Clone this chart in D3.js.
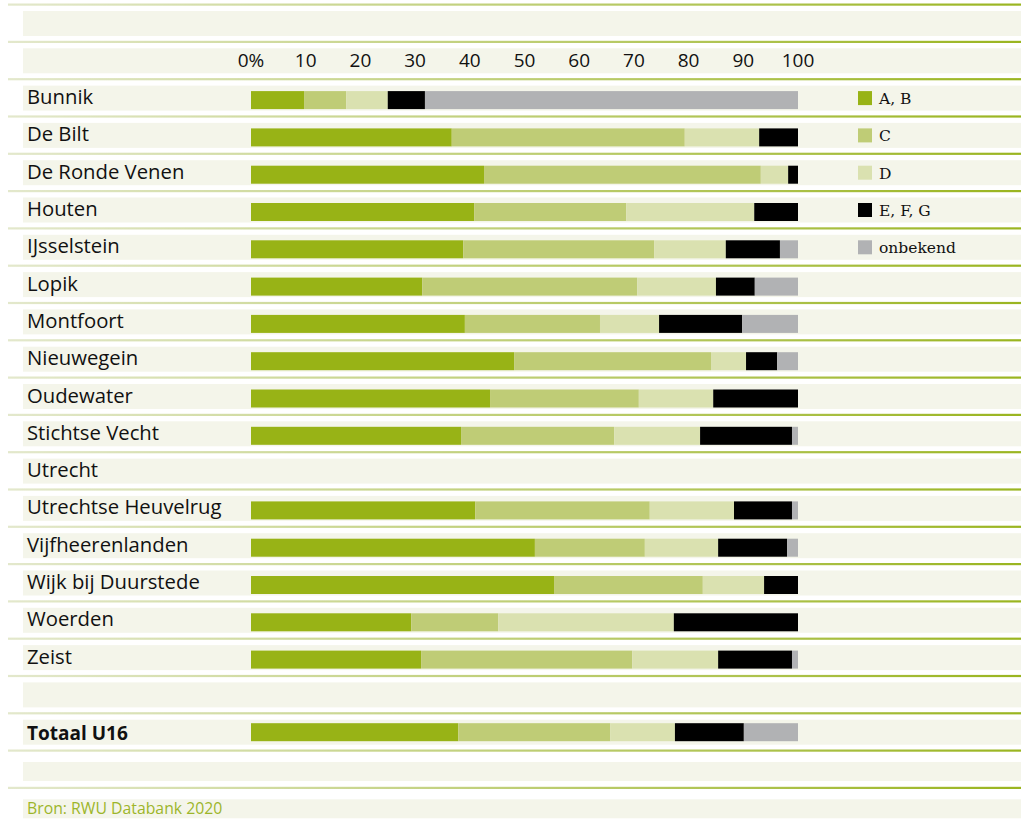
<!DOCTYPE html>
<html>
<head>
<meta charset="utf-8">
<script src="https://cdn.jsdelivr.net/npm/d3@7"></script>
<style>
  body { margin: 0; background: #fff; }
  text { font-family: "Open Sans", sans-serif; fill: #111; }
</style>
</head>
<body>
<div id="chart"></div>
<script>
// gemeenten, in volgorde van boven naar beneden
const categories = ["Bunnik", "De Bilt", "De Ronde Venen", "Houten", "IJsselstein", "Lopik",
  "Montfoort", "Nieuwegein", "Oudewater", "Stichtse Vecht", "Utrecht", "Utrechtse Heuvelrug",
  "Vijfheerenlanden", "Wijk bij Duurstede", "Woerden", "Zeist"];
const seriesNames = ["A, B", "C", "D", "E, F, G", "onbekend"];

// percentages per label (Utrecht: geen gegevens)
const labelAB  = [9.7, 36.7, 42.6, 40.8, 38.8, 31.3, 39.1, 48.1, 43.7, 38.4, null, 41.0, 51.9, 55.4, 29.3, 31.1];
const labelC   = [7.7, 42.6, 50.6, 27.8, 34.9, 39.3, 24.7, 36.0, 27.2, 28.0, null, 31.9, 20.1, 27.2, 15.9, 38.6];
const labelD   = [7.6, 13.6, 5.0, 23.4, 13.1, 14.4, 10.8, 6.4, 13.6, 15.7, null, 15.4, 13.4, 11.2, 32.1, 15.7];
const labelEFG = [6.8, 7.1, 1.8, 8.0, 9.9, 7.1, 15.2, 5.7, 15.5, 16.8, null, 10.6, 12.6, 6.2, 22.7, 13.5];
const labelOnb = [68.2, 0, 0, 0, 3.3, 7.9, 10.2, 3.8, 0, 1.1, null, 1.1, 2.0, 0, 0, 1.1];

const totalName = "Totaal U16";
const totalValues = [37.9, 27.8, 11.8, 12.6, 9.9];

const ticks = [0, 10, 20, 30, 40, 50, 60, 70, 80, 90, 100];
const source = "Bron: RWU Databank 2020";

const colors = ["#98b316", "#bfcc76", "#dae1b0", "#000000", "#b1b2b4"];

var width = 1021, height = 821;

var svg = d3.select("#chart").append("svg")
  .attr("width", width)
  .attr("height", height);

// rijen: 0 leeg, 1 as, 2..17 gemeenten, 18 leeg, 19 totaal, 20 leeg, 21 bron
var nRows = 22;
var lineY = d3.scaleLinear().domain([0, nRows - 1]).range([4.5, 787.8]);
var x = d3.scaleLinear().domain([0, 100]).range([251, 798]);

var defs = svg.append("defs");
var grad = defs.append("linearGradient").attr("id", "lineGrad")
  .attr("x1", "0%").attr("x2", "100%").attr("y1", "0%").attr("y2", "0%");
grad.append("stop").attr("offset", "0%").attr("stop-color", "#e3e8cc");
grad.append("stop").attr("offset", "100%").attr("stop-color", "#9ab520");

var rows = d3.range(nRows);

// scheidingslijnen
svg.selectAll(".sep")
  .data(rows)
  .enter().append("rect")
  .attr("class", "sep")
  .attr("x", 8)
  .attr("y", d => lineY(d) - 1)
  .attr("width", width - 8)
  .attr("height", 2.2)
  .attr("fill", "url(#lineGrad)");

// achtergrondbanden
svg.selectAll(".band")
  .data(rows)
  .enter().append("rect")
  .attr("class", "band")
  .attr("x", 23)
  .attr("y", d => lineY(d) + (d >= 20 ? 11.5 : 6.5))
  .attr("width", width - 23)
  .attr("height", d => d >= 20 ? 19 : 25)
  .attr("fill", "#f4f5ea");

// as-labels
svg.selectAll(".tick")
  .data(ticks)
  .enter().append("text")
  .attr("class", "tick")
  .attr("x", d => x(d))
  .attr("y", lineY(1) + 25)
  .attr("text-anchor", "middle")
  .style("font-size", "19px")
  .text(d => d === 0 ? "0%" : d);

// gestapelde data
var table = categories.map(function (name, i) {
  return { name: name, row: i + 2, vals: [labelAB[i], labelC[i], labelD[i], labelEFG[i], labelOnb[i]] };
});
table.push({ name: totalName, row: 19, vals: totalValues, bold: true });

var stack = d3.stack()
  .keys(d3.range(seriesNames.length))
  .value((d, k) => d.vals[k] == null ? 0 : d.vals[k]);
var series = stack(table);

svg.append("g").selectAll("g")
  .data(series)
  .enter().append("g")
  .attr("fill", (d, i) => colors[i])
  .selectAll("rect")
  .data(d => d.filter(s => s.data.vals[0] != null && s[1] > s[0]))
  .enter().append("rect")
  .attr("x", d => x(d[0]))
  .attr("width", d => x(d[1]) - x(d[0]))
  .attr("y", d => lineY(d.data.row) + (d.data.bold ? 10 : 12))
  .attr("height", 18);

// namen
svg.selectAll(".name")
  .data(table)
  .enter().append("text")
  .attr("class", "name")
  .attr("x", 27)
  .attr("y", d => lineY(d.row) + (d.bold ? 27 : 25))
  .style("font-size", d => d.bold ? "19px" : "20.3px")
  .style("font-weight", d => d.bold ? "bold" : "normal")
  .text(d => d.name);

// legenda
var leg = svg.selectAll(".leg")
  .data(seriesNames)
  .enter().append("g")
  .attr("class", "leg")
  .attr("transform", (d, i) => "translate(858," + lineY(i + 2) + ")");
leg.append("rect")
  .attr("y", 12).attr("width", 14).attr("height", 14)
  .attr("fill", (d, i) => colors[i]);
leg.append("text")
  .attr("x", 21).attr("y", 25)
  .style("font-family", "'DejaVu Serif', serif")
  .style("font-size", "15.5px")
  .text(d => d);

// bron
svg.append("text")
  .attr("x", 27)
  .attr("y", lineY(21) + 26)
  .style("font-size", "15.8px")
  .style("fill", "#9db52a")
  .text(source);
</script>
</body>
</html>
